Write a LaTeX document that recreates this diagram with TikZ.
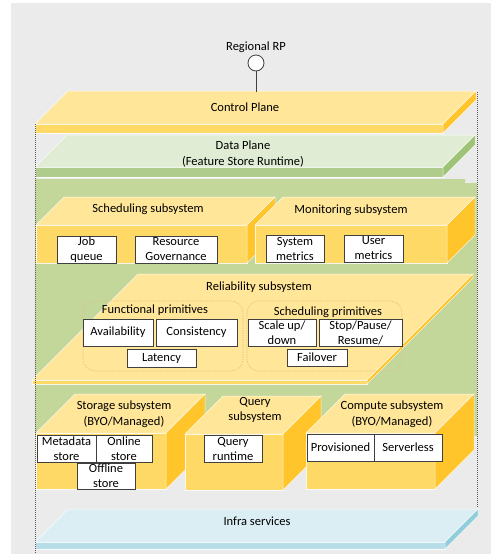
\documentclass[tikz,border=0pt]{standalone}
\usepackage{fontspec}
\setmainfont{Carlito}
\definecolor{bg}{HTML}{EBEBEB}
\definecolor{grn}{HTML}{C4D79B}
\definecolor{yTop}{HTML}{FFE699}
\definecolor{yFront}{HTML}{FFD966}
\definecolor{ySide}{HTML}{FFC52A}
\definecolor{dTop}{HTML}{E0EDD4}
\definecolor{dFront}{HTML}{AFCC8C}
\definecolor{dSide}{HTML}{9EC276}
\definecolor{iTop}{HTML}{DAEEF3}
\definecolor{iFront}{HTML}{B7DEE8}
\definecolor{iSide}{HTML}{92CDDC}
\definecolor{boxline}{HTML}{3F3F3F}
\definecolor{dotc}{HTML}{595959}
\definecolor{tanc}{HTML}{DCC07E}
\newcommand\tfont{\fontsize{12.5}{15}\selectfont}
\newcommand\tfontb{\fontsize{12.5}{15.5}\selectfont}
% slab: x1 x2 yfront thickness depth topcol frontcol sidecol
\newcommand\myslab[8]{%
  \filldraw[edge,fill=#6] (#1,#3) -- (#2,#3) -- ({#2+#5},{#3-#5}) -- ({#1+#5},{#3-#5}) -- cycle;
  \filldraw[edge,fill=#7] (#1,#3) rectangle (#2,{#3+#4});
  \filldraw[edge,fill=#8] (#2,#3) -- ({#2+#5},{#3-#5}) -- ({#2+#5},{#3-#5+#4}) -- (#2,{#3+#4}) -- cycle;}
% cube: x1 x2 yfront ybottom depth
\newcommand\mycube[5]{%
  \filldraw[edge,fill=yTop] (#1,#3) -- (#2,#3) -- ({#2+#5},{#3-#5}) -- ({#1+#5},{#3-#5}) -- cycle;
  \filldraw[edge,fill=yFront] (#1,#3) rectangle (#2,#4);
  \filldraw[edge,fill=ySide] (#2,#3) -- ({#2+#5},{#3-#5}) -- ({#2+#5},{#4-#5}) -- (#2,#4) -- cycle;}
% white box: x1 y1 x2 y2 name text
\newcommand\wbx[6]{%
  \node[wb, minimum width={(#3-#1)*1pt}, minimum height={(#4-#2)*1pt}] (#5) at ({(#1+#3)/2},{(#2+#4)/2}) {#6};}
\begin{document}
\begin{tikzpicture}[x=1pt,y=-1pt,
  edge/.style={draw=white, draw opacity=0.8, line width=0.5pt},
  wb/.style={draw=boxline, fill=white, line width=0.9pt, inner sep=0pt, align=center, font=\tfont, text=black},
  lbl/.style={inner sep=0pt, align=center, font=\tfont, text=black},
  lblb/.style={inner sep=0pt, align=center, font=\tfontb, text=black},
  dotline/.style={draw=dotc, line width=0.7pt, dash pattern=on 1pt off 1pt},
  prim/.style={draw=tanc, line width=0.6pt, dash pattern=on 1.2pt off 1.2pt, rounded corners=12pt}]
\useasboundingbox (0,0) rectangle (491,558);
\fill[bg] (11,3) rectangle (491,554);
% control plane and data plane
\myslab{35}{443}{124}{9}{33}{yTop}{yFront}{ySide}
\myslab{35}{443}{167}{10}{32}{dTop}{dFront}{dSide}
% green data plane region
\fill[grn] (35,179) -- (465,179) -- (465,183) -- (477,183) -- (477,436) -- (35,436) -- cycle;
% upper subsystems
\mycube{36}{247}{225}{263}{28}
\mycube{255}{447}{225}{263}{28}
% reliability slab
\myslab{32}{367}{380}{4}{106}{yTop}{yFront}{ySide}
\draw[prim] (83,301) rectangle (243,371);
\draw[prim] (247,301) rectangle (402,371);
% lower subsystems
\mycube{36}{166}{433}{489}{39}
\mycube{185}{283}{434}{490}{38}
\mycube{306}{435}{433}{489}{39}
% infra
\myslab{35}{445}{542}{7}{33}{iTop}{iFront}{iSide}
% white boxes
\wbx{57}{236}{116}{263}{jobq}{Job\\queue}
\wbx{135}{236}{217}{263}{resgov}{Resource\\Governance}
\wbx{266}{235}{324}{262}{sysm}{System\\metrics}
\wbx{344}{235}{403}{262}{userm}{User\\metrics}
\wbx{83}{319}{153}{346}{avail}{Availability}
\wbx{156}{319}{237}{346}{consis}{Consistency}
\wbx{127}{349}{196}{367}{lat}{Latency}
\wbx{248}{319}{316}{346}{scale}{Scale up/\\down}
\wbx{319}{319}{402}{346}{stop}{Stop/Pause/\\Resume/}
\wbx{287}{349}{347}{366}{fail}{Failover}
\wbx{37}{435}{96}{462}{meta}{Metadata\\store}
\wbx{96}{435}{152}{462}{online}{Online\\store}
\wbx{77}{463}{135}{489}{offline}{Offline\\store}
\wbx{204}{435}{262}{462}{qrt}{Query\\runtime}
\wbx{307}{434}{374}{461}{prov}{Provisioned}
\wbx{374}{434}{442}{461}{serverless}{Serverless}
% labels
\node[lbl] (rptext) at (256,47) {Regional RP};
\node[lbl] (cptext) at (245,107) {Control Plane};
\node[lblb] (dptext) at (243,154) {Data Plane\\(Feature Store Runtime)};
\node[lbl] (schedt) at (148,209) {Scheduling subsystem};
\node[lbl] (monit) at (351,210) {Monitoring subsystem};
\node[lbl] (relt) at (259,287) {Reliability subsystem};
\node[lbl] (funct) at (155,310) {Functional primitives};
\node[lbl] (schpt) at (328,312) {Scheduling primitives};
\node[lblb] (stort) at (124,414) {Storage subsystem\\(BYO/Managed)};
\node[lblb] (queryt) at (255,410) {Query\\subsystem};
\node[lblb] (compt) at (392,414) {Compute subsystem\\(BYO/Managed)};
\node[lbl] (infrat) at (257,521) {Infra services};
% borders
\coordinate (lt) at (35,124);
\coordinate (lb) at (35,553);
\coordinate (rt) at (477,92);
\coordinate (rb) at (477,508);
\draw[dotline] (lt) -- (lb);
\draw[dotline] (rt) -- (rb);
% regional RP
\coordinate (cptop) at (256,92);
\node[circle, draw=boxline, fill=white, line width=0.8pt, minimum size=16pt, inner sep=0pt] (rp) at (256,63) {};
\draw[boxline, line width=0.8pt] (rp) -- (cptop);
\end{tikzpicture}
\end{document}
